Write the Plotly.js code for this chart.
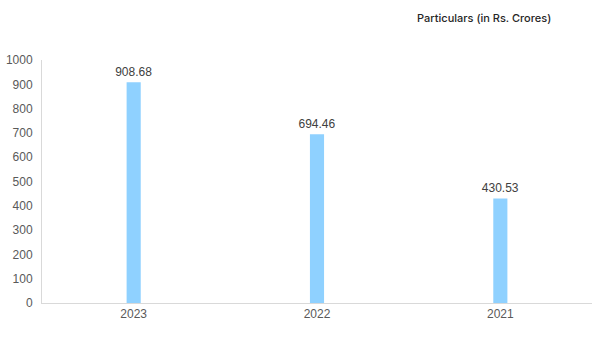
<!DOCTYPE html>
<html>
<head>
<meta charset="utf-8">
<script src="https://cdn.plot.ly/plotly-3.0.1.min.js"></script>
<style>html,body{margin:0;padding:0;background:#fff;}#chart{width:602px;height:340px;}</style>
</head>
<body>
<div id="chart"></div>
<script>
const categories = ["2023", "2022", "2021"];
const values = [908.68, 694.46, 430.53];
const labels = ["908.68", "694.46", "430.53"];
const yTicks = [0, 100, 200, 300, 400, 500, 600, 700, 800, 900, 1000];

const trace = {
  type: "bar",
  x: categories,
  y: values,
  text: labels,
  textposition: "outside",
  constraintext: "none",
  cliponaxis: false,
  textfont: {family: "Arial, 'Liberation Sans', sans-serif", size: 12, color: "#404040"},
  marker: {color: "#8FD1FF"},
  width: 0.077,
  hoverinfo: "none"
};

const layout = {
  width: 602, height: 340,
  margin: {l: 42, r: 10, t: 60, b: 37},
  paper_bgcolor: "#ffffff",
  plot_bgcolor: "#ffffff",
  showlegend: false,
  title: {
    text: "Particulars (in Rs. Crores)",
    font: {family: "Inter, 'Noto Sans', sans-serif", size: 11, color: "#262626", weight: 500},
    x: 484 / 602, xanchor: "center", xref: "paper",
    y: 1 - 18 / 340, yanchor: "middle", yref: "container"
  },
  xaxis: {
    type: "category",
    showline: true, linecolor: "#D9D9D9", linewidth: 1,
    showgrid: false, zeroline: false, ticks: "",
    tickfont: {family: "Arial, 'Liberation Sans', sans-serif", size: 12, color: "#595959"},
    fixedrange: true
  },
  yaxis: {
    range: [0, 1000],
    tickvals: yTicks,
    ticktext: yTicks.map(String),
    showline: true, linecolor: "#D9D9D9", linewidth: 1,
    showgrid: false, zeroline: false, ticks: "",
    ticklabelstandoff: 6,
    tickfont: {family: "Arial, 'Liberation Sans', sans-serif", size: 12, color: "#595959"},
    fixedrange: true
  }
};
Plotly.newPlot("chart", [trace], layout, {displayModeBar: false, staticPlot: true});
</script>
</body>
</html>
